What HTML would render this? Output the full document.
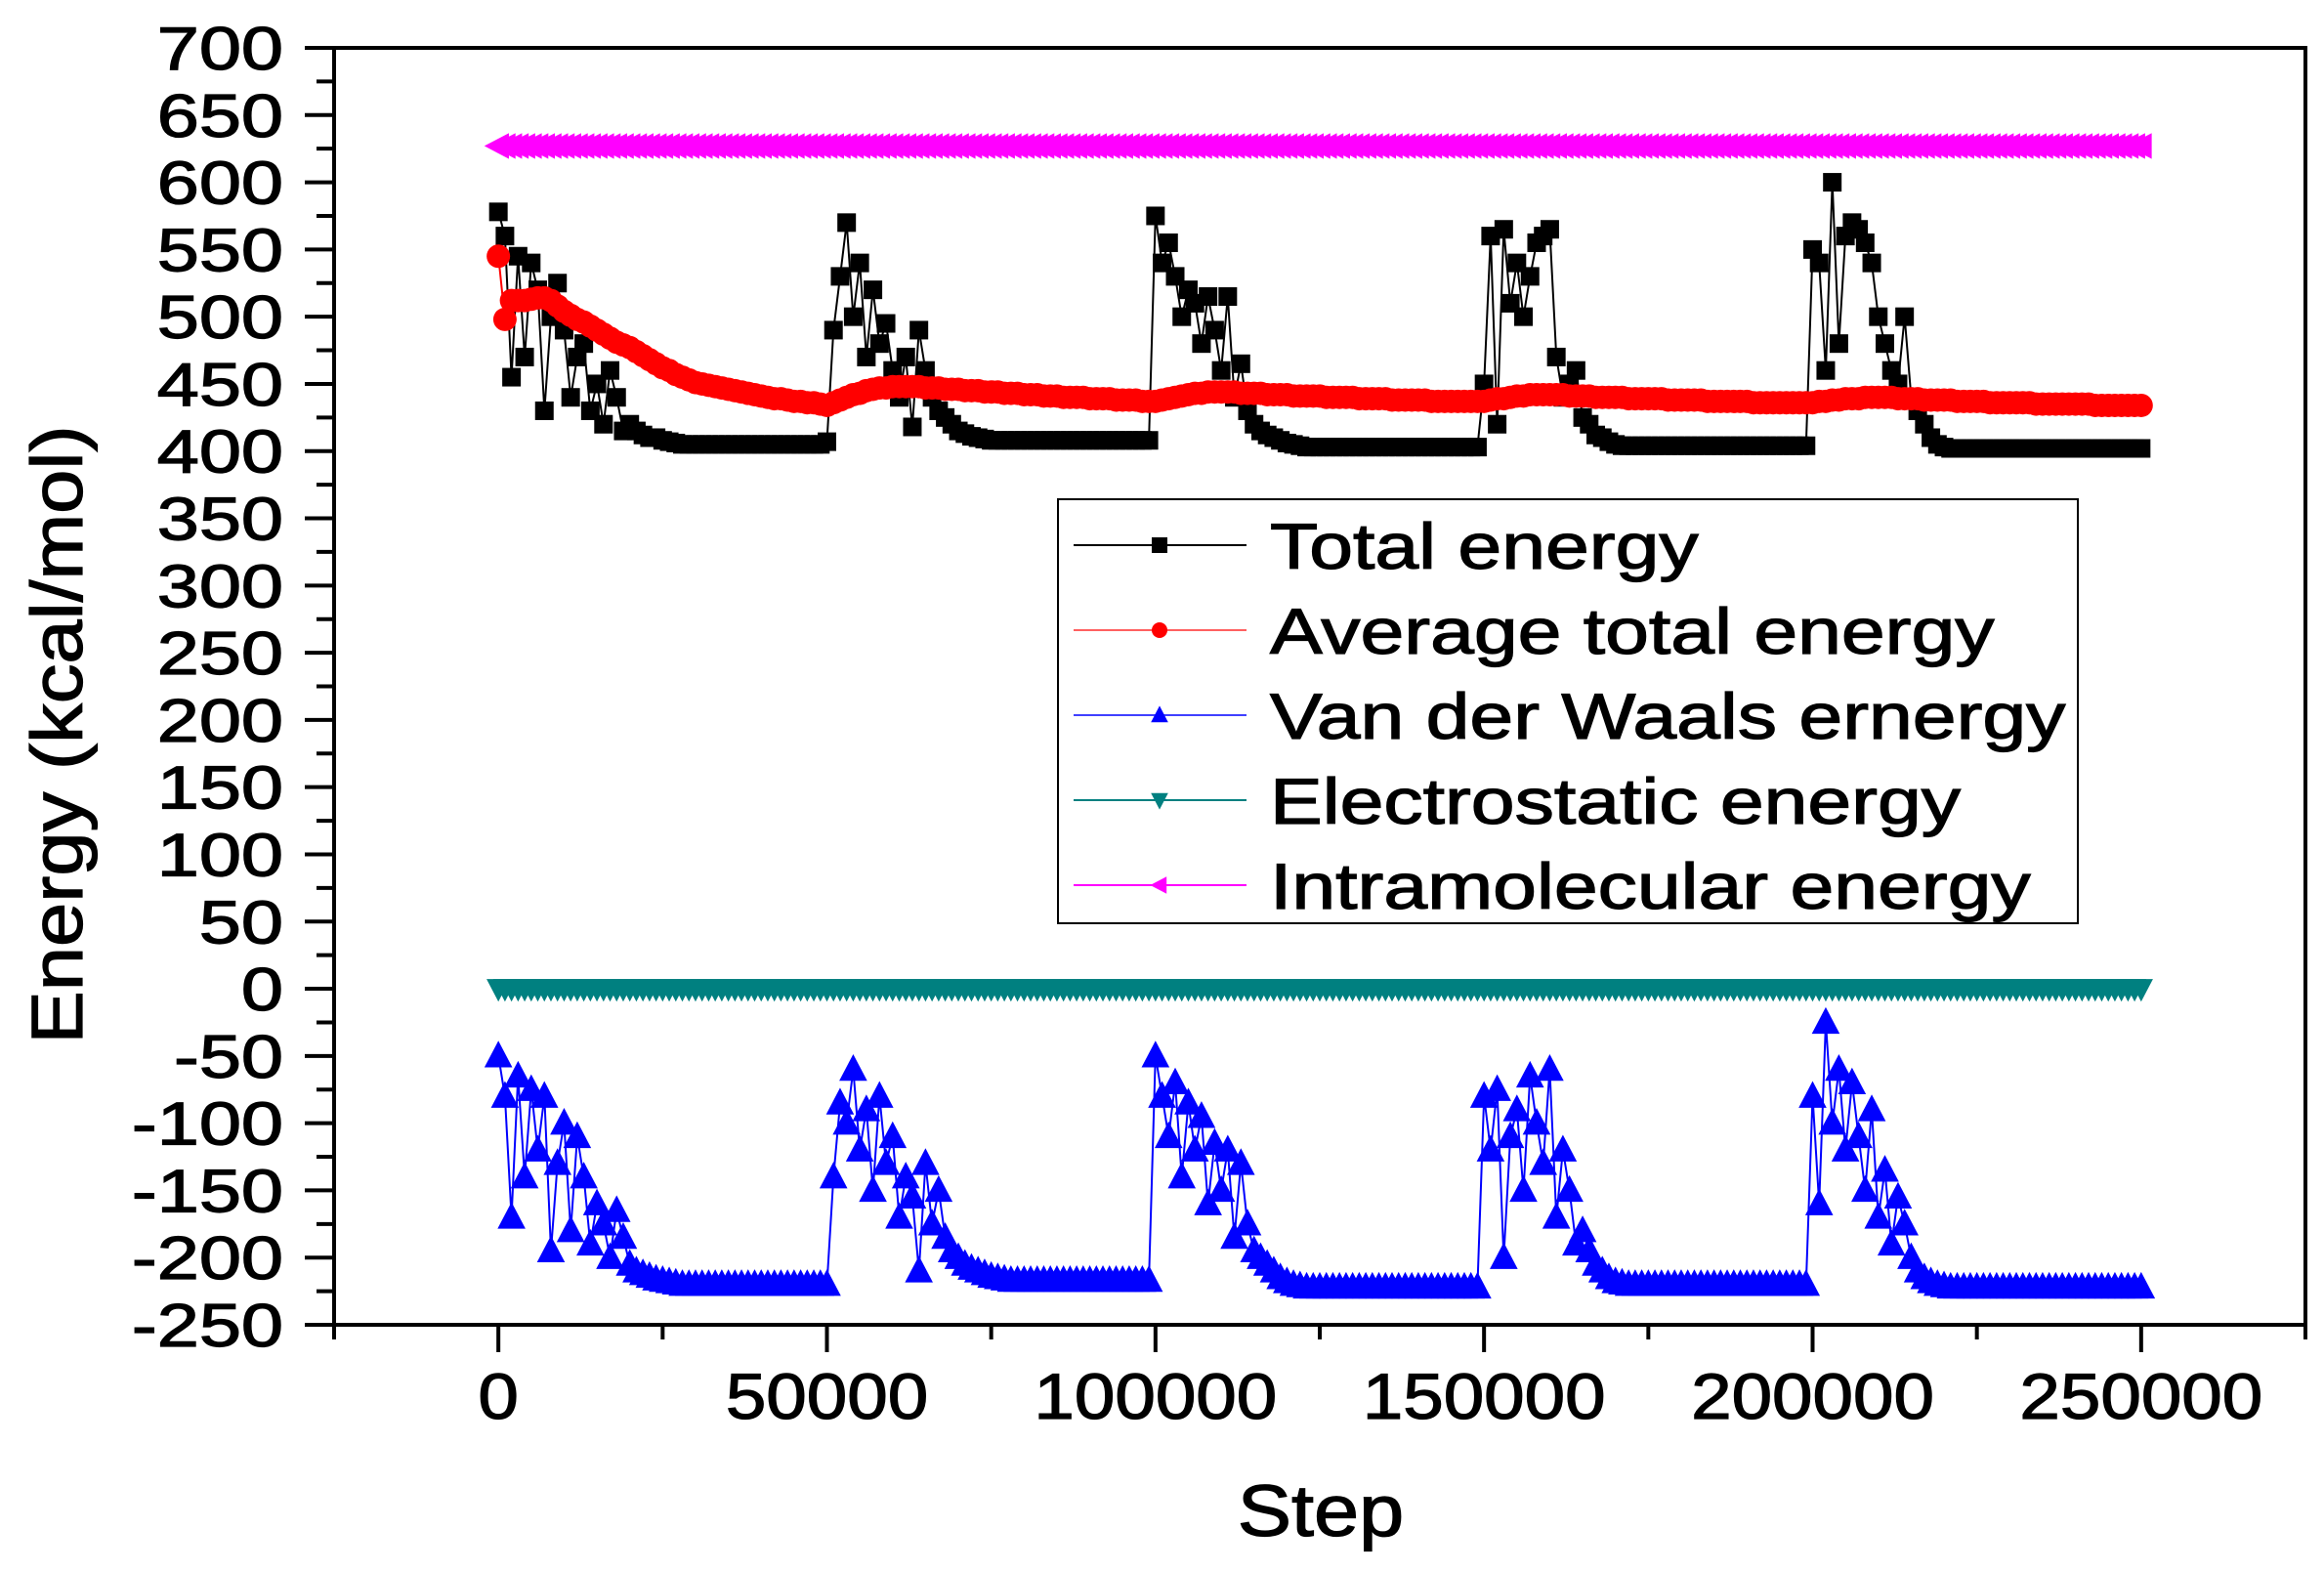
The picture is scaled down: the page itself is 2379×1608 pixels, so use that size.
<!DOCTYPE html>
<html><head><meta charset="utf-8">
<style>
html,body{margin:0;padding:0;background:#fff;}
svg{display:block;font-family:"Liberation Sans",Arial,sans-serif;}
</style></head>
<body>
<svg id="chart" width="2379" height="1608" viewBox="0 0 2379 1608" xmlns="http://www.w3.org/2000/svg">
<rect width="2379" height="1608" fill="#fff"/>
<g id="series"></g>
<g id="axes"></g>
<g id="legend"></g>
</svg>
<script>
// ---- data (step index i -> step = i*1000) ----
const totalEnergy = [
578,560,455,545,470,540,520,430,500,525,490,440,470,480,430,450,420,460,440,415,420,415,412,410,410,408,407,406,405,405,
405,405,405,405,405,405,405,405,405,405,405,405,405,405,405,405,405,405,405,405,
407,490,530,570,500,540,470,520,480,495,460,440,470,418,490,460,440,430,425,420,415,413,411,410,409,408,408,408,408,408,
408,408,408,408,408,408,408,408,408,408,408,408,408,408,408,408,408,408,408,408,
575,540,555,530,500,520,510,480,515,490,460,515,440,465,430,420,415,412,410,408,406,405,404,403,403,403,403,403,403,403,
403,403,403,403,403,403,403,403,403,403,403,403,403,403,403,403,403,403,403,403,
450,560,420,565,510,540,500,530,555,560,565,470,440,450,460,425,420,412,410,407,405,404,404,404,404,404,404,404,404,404,
404,404,404,404,404,404,404,404,404,404,404,404,404,404,404,404,404,404,404,404,
550,540,460,600,480,560,570,565,555,540,500,480,460,450,500,440,430,420,410,405,403,402,402,402,402,402,402,402,402,402,
402,402,402,402,402,402,402,402,402,402,402,402,402,402,402,402,402,402,402,402,
402];
const avgEnergy = [
545,498,512,512,512,513,514,514,512,508,504,501,498,496,493,490,487,484,481,479,477,474,471,468,465,462,460,457,455,453,
451,450,449,448,447,446,445,444,443,442,441,440,439,439,438,437,437,436,436,435,
434,436,438,440,442,443,445,446,447,447,448,448,448,448,448,447,447,447,446,446,446,445,445,445,444,444,444,443,443,443,
442,442,442,441,441,441,440,440,440,440,439,439,439,439,438,438,438,438,437,437,
437,438,439,440,441,442,443,443,444,444,444,444,444,443,443,443,443,442,442,442,442,441,441,441,441,441,440,440,440,440,
440,439,439,439,439,439,438,438,438,438,438,438,437,437,437,437,437,437,437,437,
437,438,439,439,440,441,441,442,442,442,442,442,442,441,441,441,441,440,440,440,440,440,439,439,439,439,439,439,438,438,
438,438,438,438,437,437,437,437,437,437,437,436,436,436,436,436,436,436,436,436,
436,437,437,438,438,439,439,439,440,440,440,440,440,439,439,439,439,438,438,438,438,438,437,437,437,437,437,436,436,436,
436,436,436,436,435,435,435,435,435,435,435,435,435,434,434,434,434,434,434,434,
434];
const vdwEnergy = [
-50,-80,-170,-65,-140,-75,-120,-80,-195,-130,-100,-180,-110,-140,-190,-160,-175,-200,-165,-185,-205,-210,-212,-214,-216,-217,-218,-219,-220,-220,
-220,-220,-220,-220,-220,-220,-220,-220,-220,-220,-220,-220,-220,-220,-220,-220,-220,-220,-220,-220,
-220,-140,-85,-100,-60,-120,-90,-150,-80,-130,-110,-170,-140,-155,-210,-130,-175,-150,-185,-195,-200,-205,-208,-210,-212,-214,-215,-216,-217,-217,
-217,-217,-217,-217,-217,-217,-217,-217,-217,-217,-217,-217,-217,-217,-217,-217,-217,-217,-217,-217,
-50,-80,-110,-70,-140,-85,-120,-95,-160,-115,-150,-120,-185,-130,-175,-195,-200,-205,-210,-215,-218,-220,-221,-222,-222,-222,-222,-222,-222,-222,
-222,-222,-222,-222,-222,-222,-222,-222,-222,-222,-222,-222,-222,-222,-222,-222,-222,-222,-222,-222,
-80,-120,-75,-200,-110,-90,-150,-65,-100,-130,-60,-170,-120,-150,-190,-180,-195,-205,-210,-215,-218,-219,-220,-220,-220,-220,-220,-220,-220,-220,
-220,-220,-220,-220,-220,-220,-220,-220,-220,-220,-220,-220,-220,-220,-220,-220,-220,-220,-220,-220,
-80,-160,-25,-100,-60,-120,-70,-110,-150,-90,-170,-135,-190,-155,-175,-200,-210,-215,-218,-220,-221,-222,-222,-222,-222,-222,-222,-222,-222,-222,
-222,-222,-222,-222,-222,-222,-222,-222,-222,-222,-222,-222,-222,-222,-222,-222,-222,-222,-222,-222,
-222];
const elecEnergy = [
0,0,0,0,0,0,0,0,0,0,0,0,0,0,0,0,0,0,0,0,0,0,0,0,0,0,0,0,0,0,0,0,0,0,0,0,0,0,0,0,0,0,0,0,0,0,0,0,0,0,
0,0,0,0,0,0,0,0,0,0,0,0,0,0,0,0,0,0,0,0,0,0,0,0,0,0,0,0,0,0,0,0,0,0,0,0,0,0,0,0,0,0,0,0,0,0,0,0,0,0,
0,0,0,0,0,0,0,0,0,0,0,0,0,0,0,0,0,0,0,0,0,0,0,0,0,0,0,0,0,0,0,0,0,0,0,0,0,0,0,0,0,0,0,0,0,0,0,0,0,0,
0,0,0,0,0,0,0,0,0,0,0,0,0,0,0,0,0,0,0,0,0,0,0,0,0,0,0,0,0,0,0,0,0,0,0,0,0,0,0,0,0,0,0,0,0,0,0,0,0,0,
0,0,0,0,0,0,0,0,0,0,0,0,0,0,0,0,0,0,0,0,0,0,0,0,0,0,0,0,0,0,0,0,0,0,0,0,0,0,0,0,0,0,0,0,0,0,0,0,0,0,
0];
const intraEnergy = [
627,627,627,627,627,627,627,627,627,627,627,627,627,627,627,627,627,627,627,627,627,627,627,627,627,627,627,627,627,627,627,627,627,627,627,627,627,627,627,627,627,627,627,627,627,627,627,627,627,627,
627,627,627,627,627,627,627,627,627,627,627,627,627,627,627,627,627,627,627,627,627,627,627,627,627,627,627,627,627,627,627,627,627,627,627,627,627,627,627,627,627,627,627,627,627,627,627,627,627,627,
627,627,627,627,627,627,627,627,627,627,627,627,627,627,627,627,627,627,627,627,627,627,627,627,627,627,627,627,627,627,627,627,627,627,627,627,627,627,627,627,627,627,627,627,627,627,627,627,627,627,
627,627,627,627,627,627,627,627,627,627,627,627,627,627,627,627,627,627,627,627,627,627,627,627,627,627,627,627,627,627,627,627,627,627,627,627,627,627,627,627,627,627,627,627,627,627,627,627,627,627,
627,627,627,627,627,627,627,627,627,627,627,627,627,627,627,627,627,627,627,627,627,627,627,627,627,627,627,627,627,627,627,627,627,627,627,627,627,627,627,627,627,627,627,627,627,627,627,627,627,627,
627];
const stepInterval = 1000;
const yTicks = [700,650,600,550,500,450,400,350,300,250,200,150,100,50,0,-50,-100,-150,-200,-250];
const xTicks = [0,50000,100000,150000,200000,250000];
const xMinorTicks = [-25000,25000,75000,125000,175000,225000,275000];
const legendLabels = ["Total energy","Average total energy","Van der Waals ernergy","Electrostatic energy","Intramolecular energy"];

// ---- scales ----
const X0=342, X1=2360, Y0=1356, Y1=49;
const xMin=-25000, xMax=275000, yMin=-250, yMax=700;
function sx(v){return X0+(v-xMin)/(xMax-xMin)*(X1-X0);}
function sy(v){return Y0-(v-yMin)/(yMax-yMin)*(Y0-Y1);}

const NS="http://www.w3.org/2000/svg";
function mk(tag,attrs,parent){const e=document.createElementNS(NS,tag);for(const k in attrs)e.setAttribute(k,attrs[k]);parent.appendChild(e);return e;}

const series=document.getElementById('series');
const axes=document.getElementById('axes');
const legend=document.getElementById('legend');

function marker(type,cx,cy,s,color,parent){
  let e;
  if(type==='square'){e=mk('rect',{x:cx-s/2,y:cy-s/2,width:s,height:s,fill:color},parent);}
  else if(type==='circle'){e=mk('circle',{cx:cx,cy:cy,r:s/2,fill:color},parent);}
  else if(type==='up'){e=mk('polygon',{points:`${cx},${cy-s*0.6} ${cx-s*0.55},${cy+s*0.45} ${cx+s*0.55},${cy+s*0.45}`,fill:color},parent);}
  else if(type==='down'){e=mk('polygon',{points:`${cx},${cy+s*0.6} ${cx-s*0.55},${cy-s*0.45} ${cx+s*0.55},${cy-s*0.45}`,fill:color},parent);}
  else {e=mk('polygon',{points:`${cx-s*0.6},${cy} ${cx+s*0.45},${cy-s*0.55} ${cx+s*0.45},${cy+s*0.55}`,fill:color},parent);}
  return e;
}

function drawSeries(vals,name,color,type,size){
  const g=mk('g',{},series);
  
  
  const pts=vals.map((v,i)=>`${sx(i*stepInterval).toFixed(1)},${sy(v).toFixed(1)}`).join(' ');
  const pl=mk('polyline',{points:pts,fill:'none',stroke:color,'stroke-width':2},g);
  
  
  vals.forEach((v,i)=>{
    const m=marker(type,sx(i*stepInterval),sy(v),size,color,g);
    
    
  });
}
drawSeries(intraEnergy,'intramolecular-energy','#ff00ff','left',24);
drawSeries(elecEnergy,'electrostatic-energy','#008080','down',22);
drawSeries(vdwEnergy,'van-der-waals-energy','#0000ff','up',26);
drawSeries(totalEnergy,'total-energy','#000000','square',19);
drawSeries(avgEnergy,'average-total-energy','#ff0000','circle',24);

// ---- axes ----
const frame=mk('rect',{x:X0,y:Y1,width:X1-X0,height:Y0-Y1,fill:'none',stroke:'#000','stroke-width':4},axes);


function stext(parent,str,x,y,size,sxf,anchor,rot){
  const tr=`translate(${x},${y})`+(rot?` rotate(${rot})`:'')+` scale(${sxf},1)`;
  const t=mk('text',{x:0,y:0,'font-size':size,'text-anchor':anchor,fill:'#000',stroke:'#000','stroke-width':1.2,transform:tr},parent);
  t.textContent=str;
  return t;
}
yTicks.forEach(v=>{
  const t=mk('line',{x1:X0-30,x2:X0,y1:sy(v),y2:sy(v),stroke:'#000','stroke-width':4},axes);
  
  
  const lb=stext(axes,String(v),290,sy(v)+22,62,1.25,'end',0);
  
  
  if(v>yMin){
    const m=mk('line',{x1:X0-18,x2:X0,y1:sy(v-25),y2:sy(v-25),stroke:'#000','stroke-width':4},axes);
    
    
  }
});
xTicks.forEach(v=>{
  const t=mk('line',{x1:sx(v),x2:sx(v),y1:Y0,y2:Y0+28,stroke:'#000','stroke-width':4},axes);
  
  
  const lb=stext(axes,String(v),sx(v),1452,66,1.13,'middle',0);
  
  
});
xMinorTicks.forEach(v=>{
  const t=mk('line',{x1:sx(v),x2:sx(v),y1:Y0,y2:Y0+15,stroke:'#000','stroke-width':4},axes);
  
  
});
const xt=stext(axes,'Step',1352,1572,74,1.12,'middle',0);


const yt=stext(axes,'Energy (kcal/mol)',84,752,74,1.1,'middle',-90);



// ---- legend ----
const lbox=mk('rect',{x:1083,y:511,width:1044,height:434,fill:'#fff',stroke:'#000','stroke-width':2},legend);


const legColors=['#000000','#ff6060','#4040ff','#008080','#ff00ff'];
const legMarkColors=['#000000','#ff0000','#0000ff','#008080','#ff00ff'];
const legTypes=['square','circle','up','down','left'];
legendLabels.forEach((lab,i)=>{
  const cy=558+i*87;
  const l=mk('line',{x1:1099,x2:1276,y1:cy,y2:cy,stroke:legColors[i],'stroke-width':2},legend);
  
  
  const m=marker(legTypes[i],1187,cy,16,legMarkColors[i],legend);
  
  
  const t=stext(legend,lab,1300,cy+24,66,1.22,'start',0);
  
  
});
</script>
</body></html>
